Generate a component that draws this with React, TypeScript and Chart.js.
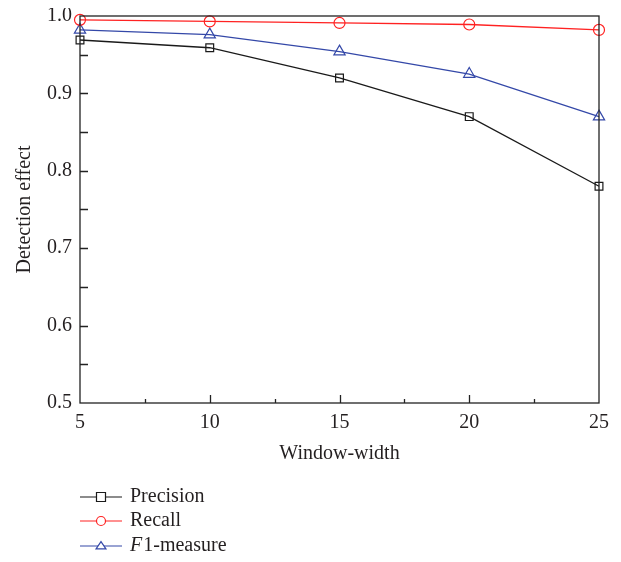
import React, { useEffect, useRef } from "react";
import { Chart, registerables } from "chart.js";

Chart.register(...registerables);

const windowWidths = [5, 10, 15, 20, 25];
const precision = [0.969, 0.959, 0.92, 0.87, 0.78];
const recall = [0.995, 0.993, 0.991, 0.989, 0.982];
const f1 = [0.982, 0.976, 0.954, 0.925, 0.87];
const yTicks = [0.5, 0.6, 0.7, 0.8, 0.9, 1.0];
const xTicks = [5, 10, 15, 20, 25];

const FONT = "'Liberation Serif', 'DejaVu Serif', serif";
const FS = 20;
const TEXT = "#231f20";
const BLACK = "#1a1a1a";
const RED = "#ff2222";
const BLUE = "#3448a8";

function drawMarker(ctx: CanvasRenderingContext2D, style: string, x: number, y: number, r: number) {
  ctx.beginPath();
  if (style === "rect") {
    ctx.rect(x - r, y - r, 2 * r, 2 * r);
  } else if (style === "circle") {
    ctx.arc(x, y, r, 0, Math.PI * 2);
  } else {
    const h = r * 1.6;
    ctx.moveTo(x, y - h * 0.6);
    ctx.lineTo(x + r * 1.1, y + h * 0.4);
    ctx.lineTo(x - r * 1.1, y + h * 0.4);
    ctx.closePath();
  }
  ctx.fillStyle = "#ffffff";
  ctx.fill();
  ctx.stroke();
}

const framePlugin = {
  id: "frameTicks",
  afterDraw(chart: any) {
    const ctx = chart.ctx as CanvasRenderingContext2D;
    const { left, right, top, bottom } = chart.chartArea;
    const xs = chart.scales.x;
    const ys = chart.scales.y;
    ctx.save();
    ctx.strokeStyle = "#222";
    ctx.lineWidth = 1.3;
    ctx.strokeRect(left, top, right - left, bottom - top);
    ctx.beginPath();
    for (let v = 7.5; v < 25; v += 2.5) {
      const px = Math.round(xs.getPixelForValue(v)) + 0.5;
      const major = Math.abs(v % 5) < 1e-6;
      ctx.moveTo(px, bottom);
      ctx.lineTo(px, bottom - (major ? 8 : 4));
    }
    for (let v = 0.55; v < 0.999; v += 0.05) {
      const py = Math.round(ys.getPixelForValue(v)) + 0.5;
      ctx.moveTo(left, py);
      ctx.lineTo(left + 8, py);
    }
    ctx.stroke();

    // legend
    const items = [
      { label: "Precision", color: BLACK, style: "rect", y: 497 },
      { label: "Recall", color: RED, style: "circle", y: 521 },
      { label: "F1", color: BLUE, style: "triangle", y: 546 },
    ];
    ctx.textBaseline = "middle";
    for (const it of items) {
      ctx.strokeStyle = it.color;
      ctx.lineWidth = 1.2;
      ctx.beginPath();
      ctx.moveTo(80, it.y);
      ctx.lineTo(122, it.y);
      ctx.stroke();
      drawMarker(ctx, it.style, 101, it.y, 4.5);
      ctx.fillStyle = TEXT;
      if (it.style === "triangle") {
        ctx.font = `italic ${FS}px ${FONT}`;
        ctx.fillText("F", 130, it.y);
        const w = ctx.measureText("F").width;
        ctx.font = `${FS}px ${FONT}`;
        ctx.fillText("1-measure", 130 + w + 1, it.y);
      } else {
        ctx.font = `${FS}px ${FONT}`;
        ctx.fillText(it.label, 130, it.y);
      }
    }
    ctx.restore();
  },
};

export default function App() {
  const ref = useRef<HTMLCanvasElement>(null);
  useEffect(() => {
    if (!ref.current) return;
    const mk = (label: string, data: number[], color: string, style: string, r: number) => ({
      label,
      data: windowWidths.map((x, i) => ({ x, y: data[i] })),
      borderColor: color,
      backgroundColor: "#ffffff",
      borderWidth: 1.3,
      pointStyle: style,
      pointRadius: r,
      pointBorderWidth: 1.2,
      pointBorderColor: color,
      pointBackgroundColor: "rgba(255,255,255,0)",
      clip: false as any,
    });
    const chart = new Chart(ref.current, {
      type: "line",
      data: {
        datasets: [
          mk("Precision", precision, BLACK, "rect", 5.5),
          mk("Recall", recall, RED, "circle", 5.5),
          mk("F1-measure", f1, BLUE, "triangle", 6.5),
        ],
      },
      options: {
        animation: false,
        responsive: false,
        layout: { padding: { top: 16, right: 22, bottom: 92, left: 0 } },
        plugins: { legend: { display: false }, tooltip: { enabled: false } },
        scales: {
          x: {
            type: "linear",
            min: 5,
            max: 25,
            afterBuildTicks: (s: any) => {
              s.ticks = xTicks.map((v) => ({ value: v }));
            },
            afterFit: (s: any) => {
              s.height = 67;
              s.paddingLeft = 0;
              s.paddingRight = 0;
            },
            grid: { display: false, drawTicks: false },
            border: { display: false },
            ticks: { padding: 8, color: TEXT, font: { family: FONT, size: FS }, maxRotation: 0 },
            title: {
              display: true,
              text: "Window-width",
              color: TEXT,
              font: { family: FONT, size: FS },
              padding: { top: 4, bottom: 4 },
            },
          },
          y: {
            min: 0.5,
            max: 1.0,
            afterBuildTicks: (s: any) => {
              s.ticks = yTicks.map((v) => ({ value: v }));
            },
            afterFit: (s: any) => {
              s.width = 80;
              s.paddingTop = 0;
              s.paddingBottom = 0;
            },
            grid: { display: false, drawTicks: false },
            border: { display: false },
            ticks: {
              padding: 8,
              color: TEXT,
              font: { family: FONT, size: FS },
              callback: (v: any) => Number(v).toFixed(1),
            },
            title: {
              display: true,
              text: "Detection effect",
              color: TEXT,
              font: { family: FONT, size: FS },
              padding: { top: 13, bottom: 4 },
            },
          },
        },
      },
      plugins: [framePlugin],
    });
    return () => chart.destroy();
  }, []);
  return (
    <div style={{ width: 621, height: 562, margin: -8 }}>
      <canvas ref={ref} width={621} height={562} style={{ display: "block" }} />
    </div>
  );
}
